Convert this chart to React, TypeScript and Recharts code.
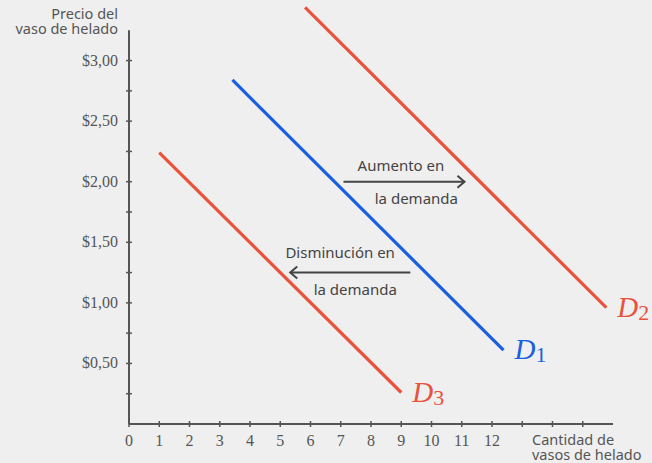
import { LineChart, Line, XAxis, YAxis, ReferenceLine, ReferenceDot } from 'recharts'

// cantidad (q) vs precio (p)
const demand1 = [
  { q: 3.42, p: 2.84 },
  { q: 12.38, p: 0.61 },
]
const demand2 = [
  { q: 5.82, p: 3.44 },
  { q: 15.78, p: 0.96 },
]
const demand3 = [
  { q: 1.0, p: 2.24 },
  { q: 9.0, p: 0.26 },
]
const increaseArrow = [
  { q: 7.09, p: 2.0 },
  { q: 11.09, p: 2.0 },
]
const decreaseArrow = [
  { q: 9.3, p: 1.25 },
  { q: 5.33, p: 1.25 },
]

const xTicks = [0, 1, 2, 3, 4, 5, 6, 7, 8, 9, 10, 11, 12, 13, 14, 15]
const xLabelMax = 12
const yTicks = [0.25, 0.5, 0.75, 1, 1.25, 1.5, 1.75, 2, 2.25, 2.5, 2.75, 3]
const yAxisTop = 3.25

const notes = [
  { q: 8.99, p: 2.13, text: 'Aumento en' },
  { q: 9.5, p: 1.86, text: 'la demanda' },
  { q: 6.98, p: 1.41, text: 'Disminución en' },
  { q: 7.48, p: 1.11, text: 'la demanda' },
]

const yTitle = ['Precio del', 'vaso de helado']
const xTitle = ['Cantidad de', 'vasos de helado']

const RED = '#e9523b'
const BLUE = '#1a5fe0'
const INK = '#555'
const SANS = '"Noto Sans", sans-serif'
const SERIF = '"Liberation Serif", serif'

function fmtPrice(v: number) {
  return '$' + v.toFixed(2).replace('.', ',')
}

function YTick(props: any) {
  const { x, y, payload } = props
  const v = payload.value as number
  const showLabel = Math.abs(v * 2 - Math.round(v * 2)) < 1e-6
  return (
    <g>
      <line x1={x + 8} x2={x + 14} y1={y} y2={y} stroke={INK} strokeWidth={1.5} />
      {showLabel && (
        <text x={x} y={y + 5} textAnchor="end" fontFamily={SERIF} fontSize={16} fill={INK}>
          {fmtPrice(v)}
        </text>
      )}
    </g>
  )
}

function XTick(props: any) {
  const { x, y, payload } = props
  const v = payload.value as number
  return (
    <g>
      <line x1={x} x2={x} y1={y - 14} y2={y - 8} stroke={INK} strokeWidth={1.5} />
      {v <= xLabelMax && (
        <text x={x} y={y + 11} textAnchor="middle" fontFamily={SERIF} fontSize={16} fill={INK}>
          {v}
        </text>
      )}
    </g>
  )
}

function arrowDot(data: { q: number; p: number }[]) {
  const dir = Math.sign(data[data.length - 1].q - data[0].q)
  return (props: any) => {
    const { cx, cy, index } = props
    if (index !== data.length - 1) return <g key={index} />
    return (
      <polyline
        key={index}
        points={`${cx - dir * 7},${cy - 6} ${cx},${cy} ${cx - dir * 7},${cy + 6}`}
        fill="none"
        stroke="#444"
        strokeWidth={2}
      />
    )
  }
}

function demandLabel(sub: string, color: string) {
  return (props: any) => {
    const { cx, cy } = props
    return (
      <text x={cx + 11} y={cy + 9} fill={color} fontFamily={SERIF}>
        <tspan fontStyle="italic" fontSize={29}>D</tspan>
        <tspan fontSize={22} dy={3}>{sub}</tspan>
      </text>
    )
  }
}

export default function App() {
  return (
    <div style={{ position: 'absolute', left: 0, top: 0, width: 652, height: 463, background: '#efefef' }}>
      <LineChart width={652} height={463} margin={{ top: 0, right: 39, left: 0, bottom: 0 }}>
        <XAxis
          type="number"
          dataKey="q"
          domain={[0, 16]}
          ticks={xTicks}
          interval={0}
          height={39}
          tickSize={3}
          tickMargin={8}
          tickLine={false}
          axisLine={{ stroke: INK, strokeWidth: 2 }}
          tick={<XTick />}
        />
        <YAxis
          type="number"
          dataKey="p"
          domain={[0, 3.5]}
          ticks={yTicks}
          interval={0}
          width={129}
          tickSize={3}
          tickMargin={8}
          tickLine={false}
          axisLine={false}
          tick={<YTick />}
        />
        <ReferenceLine
          segment={[{ x: 0, y: 0 }, { x: 0, y: yAxisTop }]}
          stroke={INK}
          strokeWidth={2}
        />
        <Line data={demand3} dataKey="p" stroke={RED} strokeWidth={3.2} dot={false} isAnimationActive={false} />
        <Line data={demand1} dataKey="p" stroke={BLUE} strokeWidth={3.2} dot={false} isAnimationActive={false} />
        <Line data={demand2} dataKey="p" stroke={RED} strokeWidth={3.2} dot={false} isAnimationActive={false} />
        <Line
          data={increaseArrow}
          dataKey="p"
          stroke="#444"
          strokeWidth={2}
          dot={arrowDot(increaseArrow)}
          isAnimationActive={false}
        />
        <Line
          data={decreaseArrow}
          dataKey="p"
          stroke="#444"
          strokeWidth={2}
          dot={arrowDot(decreaseArrow)}
          isAnimationActive={false}
        />
        {notes.map((n, i) => (
          <ReferenceDot
            key={i}
            x={n.q}
            y={n.p}
            r={0}
            ifOverflow="visible"
            shape={(props: any) => (
              <text x={props.cx} y={props.cy + 5} textAnchor="middle" fontFamily={SANS} fontSize={15} fill="#444">
                {n.text}
              </text>
            )}
          />
        ))}
        <ReferenceDot
          x={demand1[1].q}
          y={demand1[1].p}
          r={0}
          ifOverflow="visible"
          shape={demandLabel('1', BLUE)}
        />
        <ReferenceDot
          x={demand2[1].q}
          y={demand2[1].p}
          r={0}
          ifOverflow="visible"
          shape={demandLabel('2', RED)}
        />
        <ReferenceDot
          x={demand3[1].q}
          y={demand3[1].p}
          r={0}
          ifOverflow="visible"
          shape={demandLabel('3', RED)}
        />
        <ReferenceDot
          x={0}
          y={yAxisTop}
          r={0}
          ifOverflow="visible"
          shape={(props: any) => (
            <g>
              {yTitle.map((t, i) => (
                <text key={i} x={props.cx - 11} y={props.cy - 11 + i * 15} textAnchor="end" fontFamily={SANS} fontSize={14.5} fill={INK}>
                  {t}
                </text>
              ))}
            </g>
          )}
        />
        <ReferenceDot
          x={16}
          y={0}
          r={0}
          ifOverflow="visible"
          shape={(props: any) => (
            <g>
              {xTitle.map((t, i) => (
                <text key={i} x={props.cx - 81} y={props.cy + 21 + i * 15} fontFamily={SANS} fontSize={14.5} fill={INK}>
                  {t}
                </text>
              ))}
            </g>
          )}
        />
      </LineChart>
    </div>
  )
}
